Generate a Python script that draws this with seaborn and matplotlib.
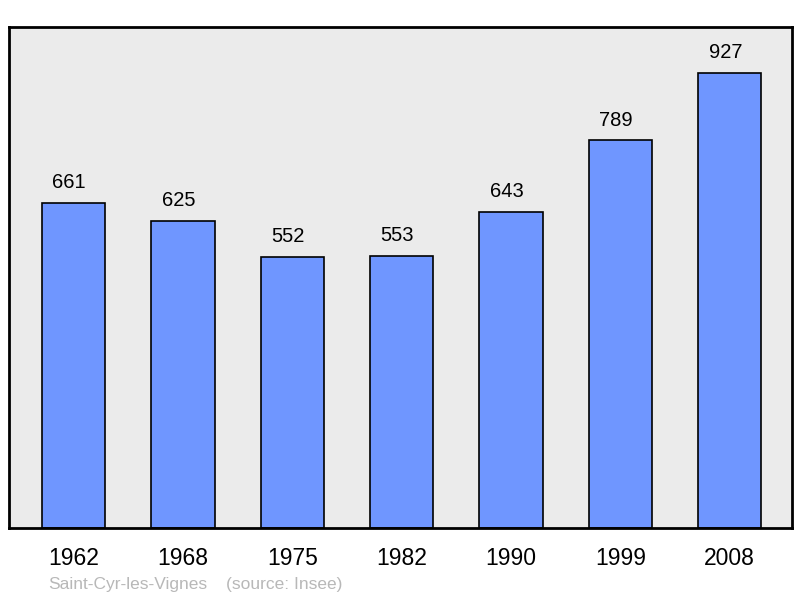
import pandas as pd
import matplotlib
matplotlib.use('Agg')
import matplotlib.pyplot as plt
import seaborn as sns

# Population data (Insee)
years = ['1962', '1968', '1975', '1982', '1990', '1999', '2008']
population = [661, 625, 552, 553, 643, 789, 927]
commune = 'Saint-Cyr-les-Vignes'
source = '(source: Insee)'

df = pd.DataFrame({'year': years, 'pop': population})

sns.set_style('white')
plt.rcParams['font.family'] = ['Liberation Sans', 'DejaVu Sans']

fig = plt.figure(figsize=(8, 5.98), dpi=100)
ax = fig.add_axes([9 / 800, 1 - 528 / 598, 783 / 800, 501 / 598])
ax.set_facecolor('#ebebeb')

sns.barplot(data=df, x='year', y='pop', color='#6f96ff', width=0.58,
            edgecolor='black', linewidth=1.2, saturation=1, ax=ax)

# value labels sit a little left of the bar centre, like the original
for i, v in enumerate(population):
    ax.text(i - 0.04, v + 22, str(v), ha='center', va='bottom',
            fontsize=14.5, color='black')

ax.set_xlim(-0.59, 6.57)
ax.set_ylim(0, max(population) * 1.1)
ax.set_yticks([])
ax.set_xlabel('')
ax.set_ylabel('')
ax.tick_params(axis='x', length=0, labelsize=16.5, pad=14, labelcolor='black')
for s in ax.spines.values():
    s.set_visible(True)
    s.set_color('black')
    s.set_linewidth(2)

fig.text(48 / 800, 1 - 584 / 598, commune, fontsize=12.5,
         color='#b8b8b8', va='center', ha='left')
fig.text(226 / 800, 1 - 584 / 598, source, fontsize=12.5,
         color='#b8b8b8', va='center', ha='left')

fig.savefig('out.png', dpi=100)
